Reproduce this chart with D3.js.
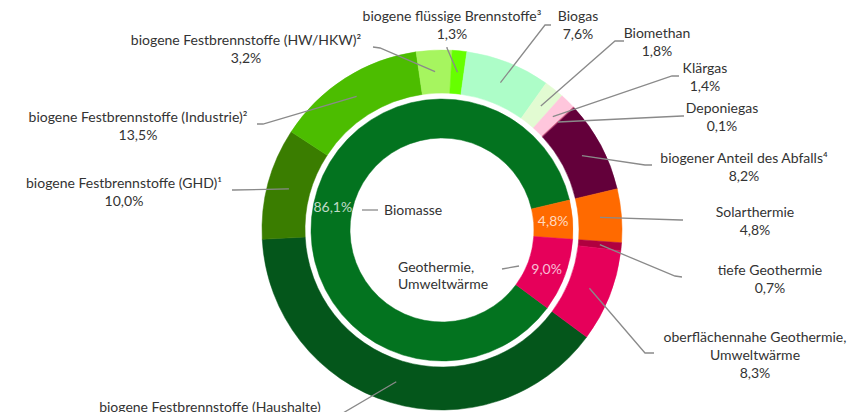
<!DOCTYPE html>
<html>
<head>
<meta charset="utf-8">
<script src="https://cdn.jsdelivr.net/npm/d3@7"></script>
<style>
  html, body { margin: 0; padding: 0; background: #fff; }
  svg { display: block; }
</style>
</head>
<body>
<script>
// outer ring: sources in detail
const outerNames = [
    "biogene Festbrennstoffe (Haushalte)",
    "biogene Festbrennstoffe (GHD)¹",
    "biogene Festbrennstoffe (Industrie)²",
    "biogene Festbrennstoffe (HW/HKW)²",
    "biogene flüssige Brennstoffe³",
    "Biogas",
    "Biomethan",
    "Klärgas",
    "Deponiegas",
    "biogener Anteil des Abfalls⁴",
    "Solarthermie",
    "tiefe Geothermie",
    "oberflächennahe Geothermie,|Umweltwärme"
];
const outerValues = [39.0, 10.0, 13.5, 3.2, 1.3, 7.6, 1.8, 1.4, 0.1, 8.2, 4.8, 0.7, 8.3];
const outerColors = ["#04561b", "#3a7d00", "#4cbd00", "#a6f55f", "#66ff00", "#adfdc8",
    "#e2fbd2", "#ffc6dc", "#c8507a", "#63003a", "#ff6a00", "#b0003f", "#e6005a"];

// inner ring: groups
const innerNames = ["Biomasse", "Solarthermie", "Geothermie,|Umweltwärme"];
const innerValues = [86.1, 4.8, 9.0];
const innerColors = ["#03731f", "#ff6a00", "#e6005a"];

// label placement for the outer ring: text centre, first line y, elbow, end of leader
const outerLayout = [
    {tx: 210, ty: 407, ex: 343, ey: 413, ox: 337, oy: 413},
    {tx: 124, ty: 183, ex: 234, ey: 190, ox: 232, oy: 190},
    {tx: 138, ty: 117, ex: 263, ey: 124, ox: 257, oy: 124},
    {tx: 246, ty: 40,  ex: 380, ey: 48,  ox: 373, oy: 47},
    {tx: 452, ty: 16,  ex: 447, ey: 48,  ox: 447, oy: 47},
    {tx: 578, ty: 16,  ex: 545, ey: 25,  ox: 551, oy: 25},
    {tx: 657, ty: 33,  ex: 615, ey: 41,  ox: 624, oy: 41},
    {tx: 705, ty: 68,  ex: 672, ey: 76,  ox: 679, oy: 76},
    {tx: 722, ty: 108, ex: 682, ey: 116, ox: 684, oy: 116},
    {tx: 744, ty: 158, ex: 645, ey: 165, ox: 652, oy: 165},
    {tx: 755, ty: 212, ex: 681, ey: 220, ox: 683, oy: 220},
    {tx: 770, ty: 270, ex: 675, ey: 276, ox: 682, oy: 277},
    {tx: 755, ty: 337, ex: 645, ey: 353, ox: 654, oy: 353}
];

const width = 864;
const height = 412;
const cx = 442, cy = 230;
const startDeg = 126.5;
const textColor = "#333333";
const lineColor = "#8a8a8a";
const fontFamily = "Lato, 'Open Sans', sans-serif";
const fontSize = 14;
const lineGap = 18;

const fmt = v => v.toFixed(1).replace(".", ",") + "%";

const svg = d3.select("body").append("svg")
    .attr("width", width)
    .attr("height", height)
    .style("font-family", fontFamily)
    .style("font-size", fontSize + "px");

const g = svg.append("g").attr("transform", `translate(${cx},${cy})`);

const pie = d3.pie()
    .sort(null)
    .value(d => d)
    .startAngle(startDeg * Math.PI / 180)
    .endAngle(startDeg * Math.PI / 180 + 2 * Math.PI);

const outerArc = d3.arc().innerRadius(137).outerRadius(180);
const innerArc = d3.arc().innerRadius(92).outerRadius(131);

const outerPie = pie(outerValues);
const innerPie = pie(innerValues);

g.selectAll("path.outer")
    .data(outerPie)
    .join("path")
    .attr("class", "outer")
    .attr("d", outerArc)
    .attr("fill", (d, i) => outerColors[i])
    .attr("stroke", (d, i) => outerColors[i])
    .attr("stroke-width", 0.5);

g.selectAll("path.inner")
    .data(innerPie)
    .join("path")
    .attr("class", "inner")
    .attr("d", innerArc)
    .attr("fill", (d, i) => innerColors[i])
    .attr("stroke", (d, i) => innerColors[i])
    .attr("stroke-width", 0.5);

// leader lines for outer labels
const line = d3.line();
svg.selectAll("path.leader")
    .data(outerPie)
    .join("path")
    .attr("class", "leader")
    .attr("fill", "none")
    .attr("stroke", lineColor)
    .attr("stroke-width", 1.3)
    .attr("d", (d, i) => {
        const c = outerArc.centroid(d);
        const l = outerLayout[i];
        return line([[cx + c[0], cy + c[1]], [l.ex, l.ey], [l.ox, l.oy]]);
    });

// outer labels
outerPie.forEach((d, i) => {
    const l = outerLayout[i];
    const lines = outerNames[i].split("|").concat([fmt(outerValues[i])]);
    const t = svg.append("text")
        .attr("text-anchor", "middle")
        .attr("fill", textColor);
    lines.forEach((s, k) => {
        t.append("tspan")
            .attr("x", l.tx)
            .attr("y", l.ty + k * lineGap)
            .attr("dy", "0.35em")
            .text(s);
    });
});

// inner percentages
g.selectAll("text.pct")
    .data(innerPie)
    .join("text")
    .attr("class", "pct")
    .attr("transform", d => `translate(${innerArc.centroid(d)})`)
    .attr("text-anchor", "middle")
    .attr("dy", "0.35em")
    .attr("fill", "#ffffff")
    .attr("fill-opacity", 0.75)
    .text(d => fmt(d.value));

// inner category labels (Biomasse, Geothermie)
const innerLayout = [
    {x: 384, y: 210, l1: [362, 210], l2: [378, 210]},
    null,
    {x: 398, y: 267, l1: [502, 269], l2: [519, 266]}
];
innerLayout.forEach((l, i) => {
    if (!l) return;
    svg.append("path")
        .attr("fill", "none")
        .attr("stroke", lineColor)
        .attr("stroke-width", 1.3)
        .attr("d", line([l.l1, l.l2]));
    const t = svg.append("text").attr("fill", textColor);
    innerNames[i].split("|").forEach((s, k) => {
        t.append("tspan")
            .attr("x", l.x)
            .attr("y", l.y + k * 17)
            .attr("dy", "0.35em")
            .text(s);
    });
});
</script>
</body>
</html>
